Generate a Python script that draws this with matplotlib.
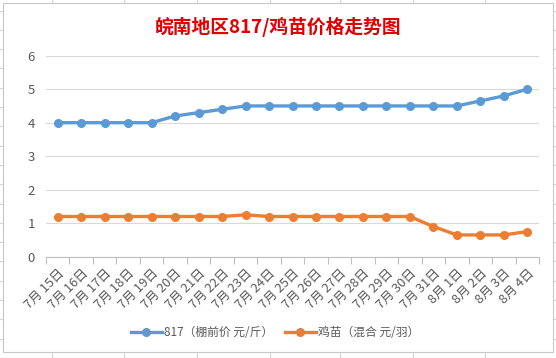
import matplotlib
matplotlib.use("Agg")
import numpy as np
from matplotlib import pyplot as plt
from matplotlib.patches import Rectangle
from matplotlib.lines import Line2D

plt.rcParams["font.family"] = ["Noto Sans CJK SC", "DejaVu Sans"]

dates = ["7月 15日", "7月 16日", "7月 17日", "7月 18日", "7月 19日", "7月 20日",
         "7月 21日", "7月 22日", "7月 23日", "7月 24日", "7月 25日", "7月 26日",
         "7月 27日", "7月 28日", "7月 29日", "7月 30日", "7月 31日", "8月 1日",
         "8月 2日", "8月 3日", "8月 4日"]
price_817 = [4.0, 4.0, 4.0, 4.0, 4.0, 4.2, 4.3, 4.4, 4.5, 4.5, 4.5, 4.5,
             4.5, 4.5, 4.5, 4.5, 4.5, 4.5, 4.65, 4.8, 5.0]
price_chick = [1.2, 1.2, 1.2, 1.2, 1.2, 1.2, 1.2, 1.2, 1.25, 1.2, 1.2, 1.2,
               1.2, 1.2, 1.2, 1.2, 0.9, 0.65, 0.65, 0.65, 0.75]
labels = ["817（棚前价 元/斤）", "鸡苗（混合 元/羽）"]

W, H = 556, 358
fig = plt.figure(figsize=(W / 100, H / 100), dpi=100)

# spreadsheet cells behind the chart
for x in [52, 124, 197, 270, 340, 413, 485]:
    fig.add_artist(Line2D([x / W, x / W], [0, 1], color="#D4D4D4", lw=0.8, zorder=0))
for y in np.arange(10.5, H, 19.3):
    fig.add_artist(Line2D([0, 1], [1 - y / H, 1 - y / H], color="#D4D4D4", lw=0.8, zorder=0))
fig.add_artist(Rectangle((3 / W, 1 - 352 / H), 550 / W, 349 / H,
                         facecolor="white", edgecolor="#C8C8C8", lw=0.8, zorder=0.5))

ax = fig.add_axes([46 / W, 1 - 256.7 / H, 493 / W, 201 / H])
ax.set_zorder(2)
ax.patch.set_alpha(0)

x = np.arange(len(dates))
ax.plot(x, price_817, color="#5B9BD5", lw=2.4, marker="o", ms=5.5, label=labels[0], zorder=3)
ax.plot(x, price_chick, color="#ED7D31", lw=2.4, marker="o", ms=5.5, label=labels[1], zorder=3)

ax.set_xlim(-0.5, len(dates) - 0.5)
ax.set_ylim(0, 6)
ax.set_yticks(range(0, 7))
ax.grid(axis="y", color="#D9D9D9", lw=0.8)
ax.set_axisbelow(True)
for s in ["left", "right", "top"]:
    ax.spines[s].set_visible(False)
ax.spines["bottom"].set_color("#BFBFBF")
ax.spines["bottom"].set_linewidth(0.8)
ax.tick_params(axis="y", length=0, labelsize=9.5, labelcolor="#595959", pad=8)

ax.set_xticks(x)
ax.set_xticklabels(dates, rotation=45, ha="right", rotation_mode="anchor",
                   fontsize=9.3, color="#595959")
ax.tick_params(axis="x", which="major", length=0, pad=7)
ax.set_xticks(np.arange(-0.5, len(dates), 1), minor=True)
ax.tick_params(axis="x", which="minor", length=5, color="#BFBFBF", width=0.8)

fig.text(0.5, 1 - 26.5 / H, "皖南地区817/鸡苗价格走势图", ha="center", va="center",
         fontsize=13.5, fontweight="bold", color="#E00000")

leg = fig.legend(loc="center", bbox_to_anchor=(275 / W, 1 - 333 / H), ncol=2, frameon=False,
                 fontsize=8.5, labelcolor="#595959", handlelength=2.6, columnspacing=1.0,
                 handletextpad=0.2)
leg.set_zorder(3)

fig.savefig("out.png", dpi=100)
